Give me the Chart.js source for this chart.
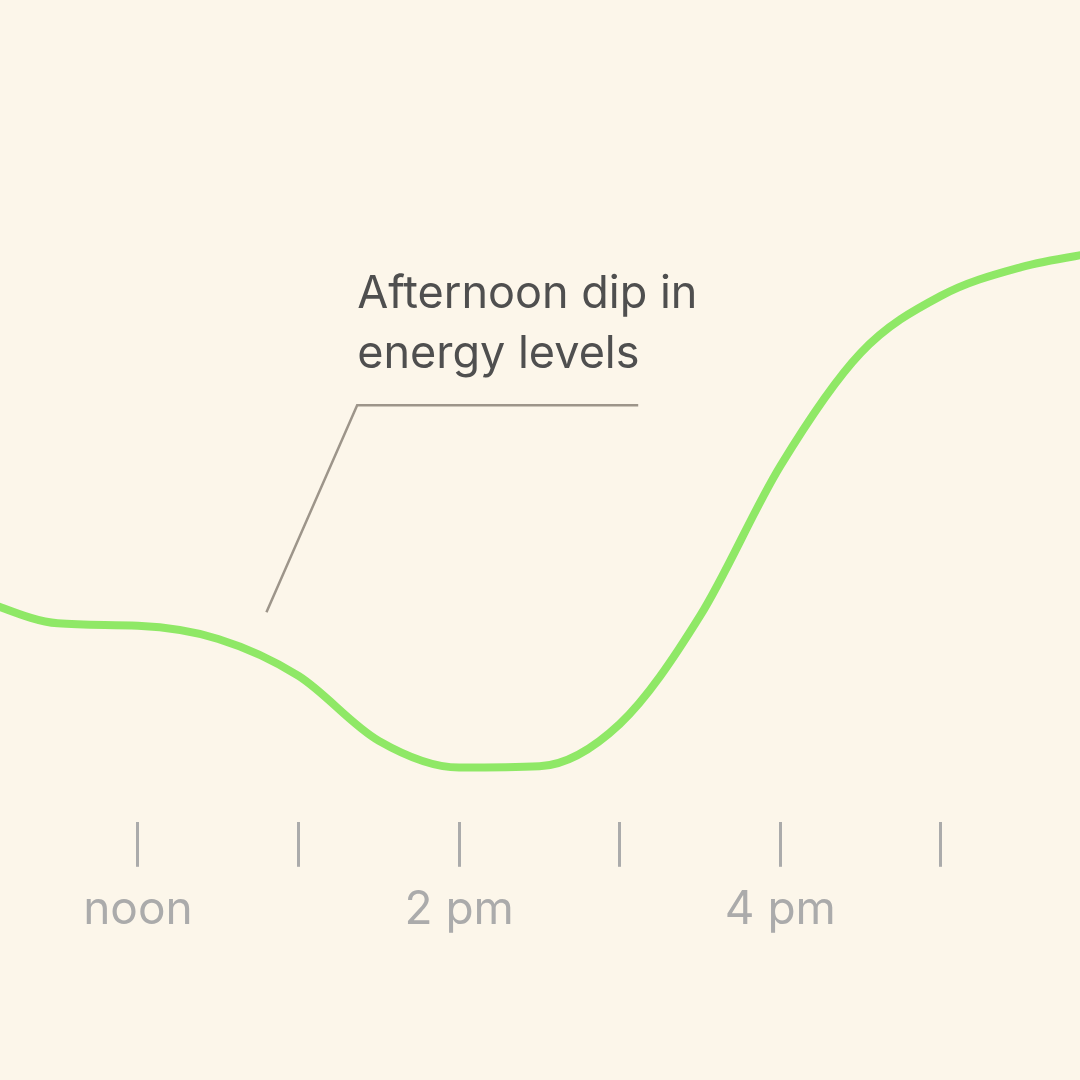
<!DOCTYPE html>
<html>
<head>
<meta charset="utf-8">
<script src="https://cdn.jsdelivr.net/npm/chart.js@4/dist/chart.umd.min.js"></script>
<style>
  html, body { margin: 0; padding: 0; background: #fcf6ea; }
  #wrap { width: 1080px; height: 1080px; }
</style>
</head>
<body>
<div id="wrap"><canvas id="chEnergy" width="1080" height="1080"></canvas></div>
<script>
// hours of the day (24h clock) and energy level
var hours = [ 11, 11.5, 12, 12.5, 13, 13.5, 14, 14.5, 15, 15.5, 16, 16.5, 17, 17.5, 18 ];
var energy = [ 27.1, 24.15, 23.85, 22.25, 17.75, 9.85, 6.6, 6.75, 11.9, 25.05, 43.3, 57.05, 64.0, 67.5, 69.4 ];
// tick labels, only every other hour gets one
var tickLabels = { 12: 'noon', 14: '2 pm', 16: '4 pm' };
var noteLines = [ 'Afternoon dip in', 'energy levels' ];

// colors
var bg = '#fcf6ea';
var lineColor = '#8fe866';
var axisGray = '#ababab';

var points = hours.map(function (h, i) { return { x: h, y: energy[i] }; });

// leader line + note, in chart units
var note = { from: [ 12.8, 25.5 ], elbow: [ 13.365, 50.7 ], to: [ 15.115, 50.7 ], textX: 13.365, textY: [ 62.5, 55.2 ] };

var background = {
	id: 'background',
	beforeDraw: function (chart) {
		var ctx = chart.ctx;
		ctx.save();
		ctx.fillStyle = bg;
		ctx.fillRect(0, 0, chart.width, chart.height);
		ctx.restore();
	}
};

var callout = {
	id: 'callout',
	afterDraw: function (chart) {
		var ctx = chart.ctx;
		var x = chart.scales.x, y = chart.scales.y;
		ctx.save();
		ctx.strokeStyle = '#9d958a';
		ctx.lineWidth = 2.5;
		ctx.beginPath();
		ctx.moveTo(x.getPixelForValue(note.from[0]), y.getPixelForValue(note.from[1]));
		ctx.lineTo(x.getPixelForValue(note.elbow[0]), y.getPixelForValue(note.elbow[1]));
		ctx.lineTo(x.getPixelForValue(note.to[0]), y.getPixelForValue(note.to[1]));
		ctx.stroke();
		ctx.fillStyle = '#4f4f4f';
		ctx.font = '45px Inter';
		ctx.textAlign = 'left';
		ctx.textBaseline = 'alphabetic';
		noteLines.forEach(function (t, i) {
			ctx.fillText(t, x.getPixelForValue(note.textX), y.getPixelForValue(note.textY[i]));
		});
		ctx.restore();
	}
};

new Chart(document.getElementById('chEnergy'), {
	type: 'line',
	data: {
		datasets: [
			{
				data: points,
				borderColor: lineColor,
				borderWidth: 8,
				pointRadius: 0,
				cubicInterpolationMode: 'monotone',
				fill: false
			}
		]
	},
	options: {
		responsive: false,
		animation: false,
		layout: { padding: { top: 0, left: 0, right: 0, bottom: 126 } },
		plugins: { legend: { display: false }, tooltip: { enabled: false } },
		scales: {
			x: {
				type: 'linear',
				min: 11.141,
				max: 17.866,
				afterBuildTicks: function (scale) {
					scale.ticks = [ 12, 13, 14, 15, 16, 17 ].map(function (v) { return { value: v }; });
				},
				border: { display: false },
				grid: { drawOnChartArea: false, drawTicks: true, tickLength: 45, tickWidth: 3, tickColor: axisGray },
				ticks: {
					autoSkip: false,
					maxRotation: 0,
					padding: 16,
					color: axisGray,
					font: { family: 'Inter', size: 46 },
					callback: function (v) { return tickLabels[v] || ''; }
				}
			},
			y: { display: false, min: 0, max: 100 }
		}
	},
	plugins: [ background, callout ]
});
</script>
</body>
</html>
